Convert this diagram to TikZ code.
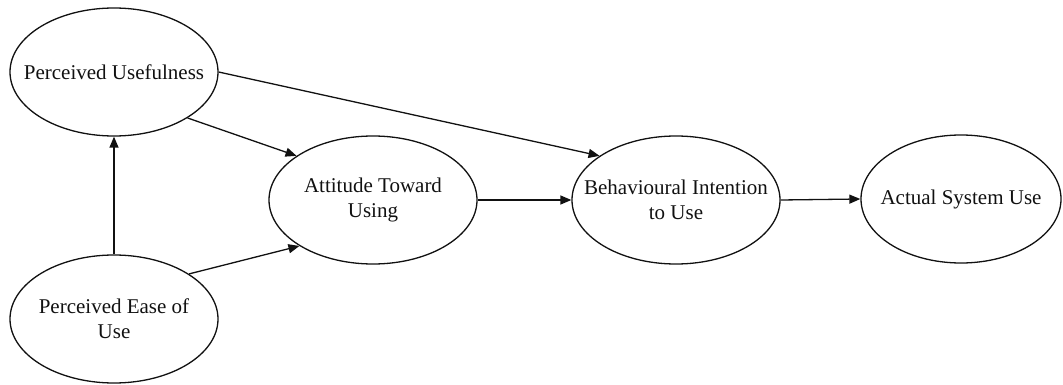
\documentclass[tikz,border=0pt]{standalone}
\usepackage{fontspec}
\setmainfont{Liberation Serif}
\usetikzlibrary{arrows.meta, positioning, shapes.geometric}
\definecolor{ink}{HTML}{111111}
\tikzset{
  font=\fontsize{21}{25}\selectfont,
  >={Triangle[length=11pt, width=9pt]},
  %
  construct/.style={
    ellipse, draw=ink, line width=1.3pt, align=center, text=ink,
    minimum width=208pt, minimum height=128pt,
    inner xsep=-60pt, inner ysep=0pt,
  },
  %
  flow/.style={draw=ink, line width=1.3pt, ->},
}

\begin{document}
\begin{tikzpicture}[x=1pt, y=-1pt]
\useasboundingbox (0,0) rectangle (1063,385);

% =========================================================================
\node[construct] (pu)  at (114,72)  {Perceived Usefulness};
\node[construct] (peu) at (114,319) {Perceived Ease of\\Use};
\node[construct] (atu) at (373,200) {Attitude Toward\\Using};
\node[construct] (bi)  at (676,200) {Behavioural Intention\\to Use};
\node[construct, minimum width=200pt] (asu) at (961,199) {Actual System Use};

% =========================================================================
\draw[flow] (peu.north) -- (pu.south);
\draw[flow] (pu.-32) -- (atu.150);
\draw[flow] (pu.east) -- (bi.150);
\draw[flow] (peu.31) -- (atu.212);
\draw[flow] (atu.east) -- (bi.west);
\draw[flow] (bi.east) -- (asu.west);

\end{tikzpicture}
\end{document}
